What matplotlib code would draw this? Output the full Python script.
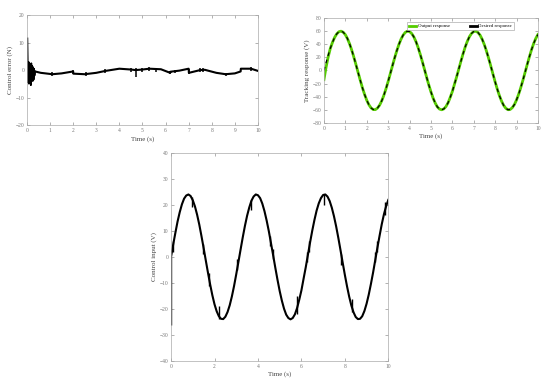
import numpy as np
import matplotlib
matplotlib.use("Agg")
from matplotlib import pyplot as plt

plt.rcParams['font.family'] = ['Liberation Serif', 'DejaVu Serif']

# time grid (s)
t = np.round(np.arange(0, 10.001, 0.1), 1)

# desired / output tracking response (V)
desired = [0, 11.9, 23.4, 33.9, 43.0, 50.5, 55.9, 59.1, 60.0, 58.4,
           54.6, 48.5, 40.5, 30.9, 20.1, 8.5, -3.5, -15.3, -26.6, -36.7,
           -45.4, -52.3, -57.1, -59.6, -59.8, -57.5, -53.0, -46.4, -37.9, -27.9,
           -16.8, -5.0, 7.0, 18.7, 29.6, 39.4, 47.6, 53.9, 58.1, 59.9,
           59.4, 56.4, 51.3, 44.1, 35.1, 24.7, 13.4, 1.5, -10.5, -22.0,
           -32.6, -42.0, -49.7, -55.6, -58.9, -60.0, -58.7, -55.2, -49.4, -41.3,
           -32.2, -21.0, -9.9, 2.0, 13.9, 25.2, 35.6, 44.4, 51.6, 56.6,
           59.4, 59.9, 57.9, 53.7, 47.3, 39.0, 29.2, 18.2, 6.5, -5.5,
           -17.3, -28.3, -38.3, -46.7, -53.3, -57.7, -59.9, -59.6, -56.9, -52.1,
           -45.1, -36.3, -26.1, -14.9, -3.0, 9.0, 20.6, 31.4, 41.0, 48.8,
           54.8]
output = [-14.0, 5.0, 21.0] + desired[3:]

# control input (V)
u = [0, 4.8, 9.3, 13.6, 17.2, 20.2, 22.4, 23.6, 24.0, 23.4,
     21.8, 19.4, 16.2, 12.4, 8.0, 3.4, -1.4, -6.1, -10.6, -14.7,
     -18.2, -20.9, -22.8, -23.8, -23.9, -23.0, -21.2, -18.6, -15.2, -11.2,
     -6.7, -2.0, 2.8, 7.5, 11.9, 15.8, 19.0, 21.6, 23.2, 24.0,
     23.7, 22.6, 20.5, 17.6, 14.0, 9.9, 5.3, 0.6, -4.2, -8.8,
     -13.1, -16.8, -19.9, -22.2, -23.5, -24.0, -23.5, -22.1, -19.7, -16.5,
     -12.9, -8.4, -4.0, 0.8, 5.6, 10.1, 14.2, 17.8, 20.6, 22.6,
     23.8, 24.0, 23.2, 21.5, 18.9, 15.6, 11.7, 7.3, 2.6, -2.2,
     -6.9, -11.3, -15.3, -18.7, -21.3, -23.1, -23.9, -23.8, -22.8, -20.8,
     -18.0, -14.5, -10.4, -6.0, -1.2, 3.6, 8.2, 12.6, 16.4, 19.5,
     21.9]
u_spike_t = [0.0, 0.1, 0.97, 1.47, 1.75, 2.2, 3.04, 3.7, 4.56, 4.7, 5.8,
             6.26, 6.35, 7.05, 7.8, 8.35, 9.4, 9.5, 9.85]
u_spike_lo = [-26, 2, 19, 1, -11, -24, -5, 18, 4, -1, -22, -2, 2, 20, -3, -21, -2, 2, 16]
u_spike_hi = [0, 6, 23, 5, -6, -19, -1, 22, 8, 3, -15, 2, 6, 24, 1, -16, 2, 6, 21]

# control error (N)
e_t0 = [0.02, 0.03, 0.05, 0.07, 0.09, 0.11, 0.13, 0.15, 0.17, 0.19, 0.21,
        0.23, 0.25, 0.27, 0.29, 0.31, 0.33, 0.35]
e_v0 = [11.5, 6, -4.5, 3, -5, 2.5, -4, 2, -5.5, 2.5, -3.5, 1.5, -4, 1,
        -3.5, 0.5, -2, -0.5]
e_t = [0.35, 0.6, 1.1, 1.5, 2.0, 2.01, 2.5, 3.0, 3.4, 4.0, 4.5, 4.7, 5.0, 5.3,
       5.8, 6.2, 6.21, 6.6, 7.0, 7.01, 7.5, 7.7, 8.2, 8.6, 9.0, 9.25, 9.26, 9.7, 10.0]
e_v = [-0.5, -1.0, -1.5, -1.2, -0.5, -1.3, -1.5, -1.0, -0.3, 0.5, 0.2, 0.0,
       0.2, 0.5, 0.3, -1.0, -0.6, -0.2, 0.5, -1.0, 0.0, 0.1, -1.0, -1.5, -1.2,
       -0.5, 0.5, 0.5, -0.3]
e_spike_t = [0.02, 1.1, 2.0, 2.55, 3.4, 4.5, 4.7, 5.0, 5.3, 5.6, 6.2, 6.4, 7.0,
             7.5, 7.6, 8.6, 9.7]
e_spike_lo = [-4, -2, -1.5, -2.3, -1, -0.8, -2.5, -0.8, -0.5, -0.7, -1.6, -1.2,
              -1.5, -0.7, -0.6, -2.2, -0.4]
e_spike_hi = [11.5, -0.8, 0, -0.7, 0.5, 0.8, 0.8, 0.8, 1.0, 0.8, -0.4, 0, 0.5,
              0.8, 0.8, -0.9, 1.0]


def style(ax, xt, yt, xl, yl, xlim, ylim):
    ax.set_xlim(xlim)
    ax.set_ylim(ylim)
    ax.set_xticks(xt)
    ax.set_yticks(yt)
    ax.tick_params(direction='in', top=True, right=True, labelsize=4,
                   length=2, width=0.4, colors='#777777', pad=2)
    for s in ax.spines.values():
        s.set_color('#aaaaaa')
        s.set_linewidth(0.5)
    ax.set_xlabel(xl, fontsize=5, color='#444444', labelpad=2)
    ax.set_ylabel(yl, fontsize=5, color='#444444', labelpad=2)


fig = plt.figure(figsize=(5.5, 3.84), dpi=100)

ax1 = fig.add_axes([0.049, 0.674, 0.42, 0.287])
ax1.plot(e_t0, e_v0, color='black', lw=1.2)
ax1.plot(e_t, e_v, color='black', lw=1.5)
ax1.vlines(e_spike_t, e_spike_lo, e_spike_hi, color='black', lw=1.1)
style(ax1, range(0, 11), [-20, -10, 0, 10, 20], 'Time (s)', 'Control error (N)',
      (0, 10), (-20, 20))

ax2 = fig.add_axes([0.589, 0.680, 0.389, 0.273])
ax2.plot(t, output, color='#55cc00', lw=2.0, label='Output response')
ax2.plot(t, desired, color='black', lw=0.9, ls=(0, (3, 3)), label='Desired response')
style(ax2, range(0, 11), range(-80, 81, 20), 'Time (s)', 'Tracking response (V)',
      (0, 10), (-80, 80))
leg = ax2.legend(loc='upper right', bbox_to_anchor=(0.9, 0.985), ncol=2, fontsize=3.5,
                 frameon=True, fancybox=False, borderpad=0.4, handlelength=1.5,
                 handletextpad=0.3, columnspacing=4)
leg.get_frame().set_edgecolor('#999999')
leg.get_frame().set_linewidth(0.5)
for lh in leg.get_lines():
    lh.set_linewidth(2.0)
    lh.set_linestyle('-')

ax3 = fig.add_axes([0.311, 0.060, 0.395, 0.542])
ax3.plot(t, u, color='black', lw=1.5)
ax3.vlines(u_spike_t, u_spike_lo, u_spike_hi, color='black', lw=1.0)
style(ax3, range(0, 11, 2), range(-40, 41, 10), 'Time (s)', 'Control input (V)',
      (0, 10), (-40, 40))

fig.savefig('out.png', dpi=100)
